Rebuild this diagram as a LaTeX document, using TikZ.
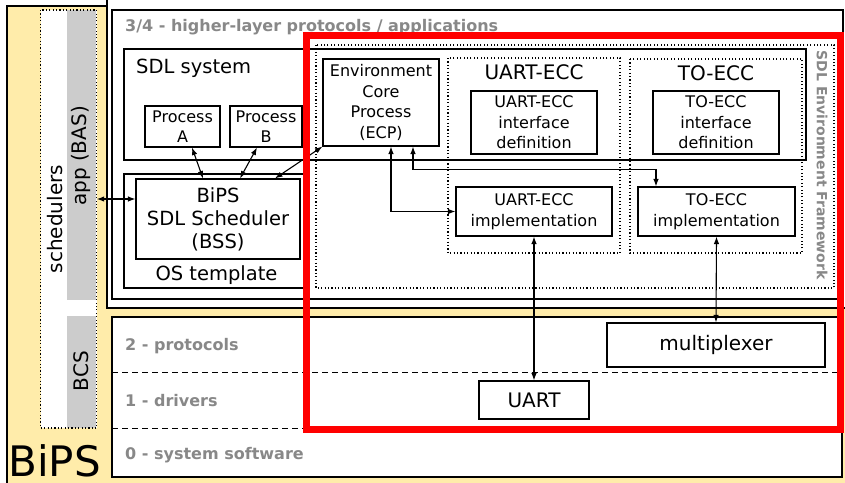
\documentclass[tikz,border=0pt]{standalone}
\usepackage{fontspec}
\setmainfont{DejaVu Sans}
\usetikzlibrary{arrows.meta}
\definecolor{bipsyellow}{RGB}{255,236,170}
\definecolor{stripgray}{RGB}{204,204,204}
\definecolor{labelgray}{RGB}{136,136,136}
\definecolor{framered}{RGB}{255,0,0}
\newcommand{\fsz}[2]{\fontsize{#1}{#2}\selectfont}
\begin{document}
\begin{tikzpicture}[x=1pt,y=-1pt,
  box/.style={draw, line width=1.1pt, fill=white, inner sep=0pt, align=center, font=\fsz{16}{20.5}},
  bigbox/.style={box, font=\fsz{19.5}{23}},
  frame/.style={draw, line width=1.1pt},
  dotbox/.style={draw, line width=1.1pt, dash pattern=on 1.1pt off 2.3pt},
  dashline/.style={draw, line width=1pt, dash pattern=on 6pt off 4pt},
  layerlbl/.style={font=\bfseries\fsz{16}{19}, text=labelgray, inner sep=0pt, anchor=base west},
  plain/.style={inner sep=0pt, font=\fsz{20}{24}},
  conn/.style={line width=1.1pt, {Latex[length=7.5pt,width=5.5pt]}-{Latex[length=7.5pt,width=5.5pt]}},
]
\useasboundingbox (0,0) rectangle (845,482);
\clip (0,0) rectangle (845,482);

% BiPS background
\draw[frame, fill=bipsyellow] (7,6) rectangle (860,495);

% layer 3/4 (double frame)
\draw[frame, fill=white] (107,-5) rectangle (860,308);
\draw[frame] (112,10) rectangle (843,299);

% layers 0-2
\draw[frame, fill=white] (112,317) rectangle (842,477);
\draw[dashline] (112,372) -- (842,372);
\draw[dashline] (112,428) -- (842,428);

% left column
\fill[white] (40.7,10) rectangle (96.7,428);
\fill[stripgray] (67,10) rectangle (96,300);
\fill[stripgray] (67,316) rectangle (96,428);
\draw[dotbox] (40.7,10) rectangle (96.7,428);
\node[plain, rotate=90] (sched) at (55,219) {schedulers};
\node[plain, rotate=90] (bas) at (81,156) {app (BAS)};
\node[plain, rotate=90] (bcs) at (81,371) {BCS};
\node[inner sep=0pt, font=\fsz{42}{48}, anchor=base west] (bipslbl) at (8,476) {BiPS};

% layer labels
\node[layerlbl] (l34) at (125,31) {3/4 - higher-layer protocols / applications};
\node[layerlbl] (l2) at (125,350) {2 - protocols};
\node[layerlbl] (l1) at (125,406) {1 - drivers};
\node[layerlbl] (l0) at (125,459) {0 - system software};

% SDL system
\draw[frame] (124,49) rectangle (806,160);
\node[inner sep=0pt, font=\fsz{19.5}{23}, anchor=base west] (sdlsys) at (136,73) {SDL system};
\node[box, minimum width=75pt, minimum height=41pt] (procA) at (182.5,126.5) {Process\\A};
\node[box, minimum width=72pt, minimum height=41pt] (procB) at (266,126.5) {Process\\B};

% OS template
\draw[frame, fill=white] (124,174) rectangle (309,288);
\node[bigbox, minimum width=164pt, minimum height=80pt] (bss) at (218,219) {BiPS\\SDL Scheduler\\(BSS)};
\node[inner sep=0pt, font=\fsz{19.5}{23}, anchor=base] (ostpl) at (216.5,280) {OS template};

% SDL environment framework
\draw[dotbox] (316,45) rectangle (834,288);
\node[inner sep=0pt, font=\bfseries\fsz{14}{16}, text=labelgray, rotate=-90] (sdlenv) at (822,165) {SDL Environment Framework};
\node[box, minimum width=116pt, minimum height=87pt] (ecp) at (381,102.5) {Environment\\Core\\Process\\(ECP)};

% UART-ECC
\draw[dotbox] (448,58) rectangle (620,253);
\node[plain, anchor=base] (uarteccT) at (534,79) {UART-ECC};
\node[box, minimum width=126pt, minimum height=63pt] (uif) at (534,122.5) {UART-ECC\\interface\\definition};
\node[box, minimum width=156pt, minimum height=49pt] (uimpl) at (534,211.5) {UART-ECC\\implementation};

% TO-ECC
\draw[dotbox] (630,59) rectangle (802,253);
\node[plain, anchor=base] (toeccT) at (716,80) {TO-ECC};
\node[box, minimum width=126pt, minimum height=63pt] (tif) at (716,122.5) {TO-ECC\\interface\\definition};
\node[box, minimum width=157pt, minimum height=49pt] (timpl) at (716.5,211.5) {TO-ECC\\implementation};

% lower layers
\node[box, font=\fsz{20}{24}, minimum width=218pt, minimum height=44pt] (mux) at (716,345) {multiplexer};
\node[box, font=\fsz{20}{24}, minimum width=110pt, minimum height=38pt] (uart) at (534,400) {UART};

% connectors
\coordinate (basport) at (96.7,199);
\draw[conn] ([xshift=9.5pt]procA.south) -- ([xshift=-15pt]bss.north);
\draw[conn] ([xshift=-9pt]procB.south) -- ([xshift=22pt]bss.north);
\draw[conn] (ecp.south west) -- ([xshift=57pt]bss.north);
\draw[conn] (basport) -- (basport -| bss.west);
\draw[conn] ([xshift=10pt]ecp.south) |- (uimpl.west);
\draw[conn] ([xshift=32pt]ecp.south) -- ++(0,23) -| ([xshift=-60.5pt]timpl.north);
\draw[conn] (uimpl.south) -- (uart.north);
\draw[conn] (timpl.south) -- (mux.north);

% highlight frame
\draw[framered, line width=7pt] (306.5,35.5) rectangle (840.5,429.5);
\end{tikzpicture}
\end{document}
